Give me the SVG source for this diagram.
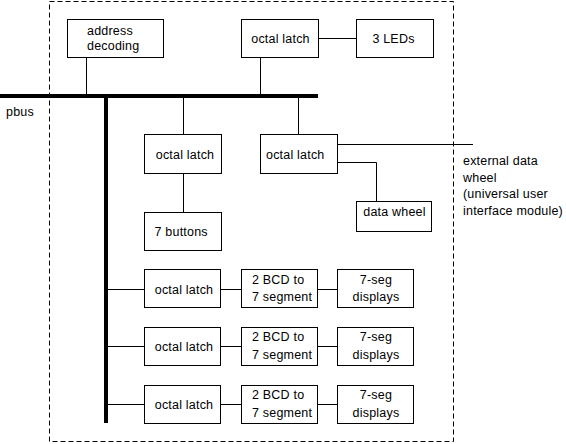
<svg xmlns="http://www.w3.org/2000/svg" width="566" height="444" viewBox="0 0 566 444">
<style>
.box{fill:#fff;stroke:#000;stroke-width:1}
.t{font-family:"Liberation Sans",Arial,sans-serif;font-size:12.5px;letter-spacing:0.2px;fill:#000}
.c{text-anchor:middle}
.w{stroke:#000;stroke-width:1;fill:none}
.bus{stroke:#000;stroke-width:4;fill:none}
</style>
<rect width="566" height="444" fill="#fff"/>
<rect x="49.5" y="1.5" width="404" height="440" fill="none" stroke="#000" stroke-width="1" stroke-dasharray="5,3"/>
<g id="connectors">
<line class="bus" x1="0" y1="96" x2="318" y2="96"/>
<line class="bus" x1="106" y1="96" x2="106" y2="423"/>
<line class="w" x1="86.5" y1="57" x2="86.5" y2="96"/>
<line class="w" x1="260.5" y1="57" x2="260.5" y2="96"/>
<line class="w" x1="319" y1="38.5" x2="356" y2="38.5"/>
<line class="w" x1="183.5" y1="96" x2="183.5" y2="134"/>
<line class="w" x1="298.5" y1="96" x2="298.5" y2="134"/>
<line class="w" x1="183.5" y1="173" x2="183.5" y2="212"/>
<line class="w" x1="338" y1="144.5" x2="473" y2="144.5"/>
<polyline class="w" points="338,162.5 376.5,162.5 376.5,201"/>
<line class="w" x1="106" y1="289.5" x2="144" y2="289.5"/>
<line class="w" x1="221" y1="289.5" x2="241" y2="289.5"/>
<line class="w" x1="318" y1="289.5" x2="337" y2="289.5"/>
<line class="w" x1="106" y1="346.5" x2="144" y2="346.5"/>
<line class="w" x1="221" y1="346.5" x2="241" y2="346.5"/>
<line class="w" x1="318" y1="346.5" x2="337" y2="346.5"/>
<line class="w" x1="106" y1="404.5" x2="144" y2="404.5"/>
<line class="w" x1="221" y1="404.5" x2="241" y2="404.5"/>
<line class="w" x1="318" y1="404.5" x2="337" y2="404.5"/>
</g>
<g id="pbus"><text class="t" x="6" y="116">pbus</text></g>
<g id="address-decoding">
<rect class="box" x="67.5" y="19.5" width="96" height="38"/>
<text class="t" x="87" y="34.5">address</text>
<text class="t" x="87" y="49.5">decoding</text>
</g>
<g id="latch-top">
<rect class="box" x="241.5" y="19.5" width="77" height="38"/>
<text class="t c" x="280.5" y="42.5">octal latch</text>
</g>
<g id="leds">
<rect class="box" x="356.5" y="19.5" width="77" height="38"/>
<text class="t c" x="393.5" y="42.5">3 LEDs</text>
</g>
<g id="latch-buttons">
<rect class="box" x="144.5" y="134.5" width="77" height="39"/>
<text class="t c" x="185" y="158.5">octal latch</text>
</g>
<g id="buttons">
<rect class="box" x="144.5" y="212.5" width="77" height="38"/>
<text class="t" x="154.5" y="236">7 buttons</text>
</g>
<g id="latch-wheel">
<rect class="box" x="260.5" y="134.5" width="77" height="39"/>
<text class="t" x="266" y="158.5">octal latch</text>
</g>
<g id="data-wheel">
<rect class="box" x="356.5" y="201.5" width="75" height="30"/>
<text class="t c" x="394.5" y="216">data wheel</text>
</g>
<g id="external-label">
<text class="t" x="463" y="165">external data</text>
<text class="t" x="463" y="181.5">wheel</text>
<text class="t" x="463" y="198">(universal user</text>
<text class="t" x="463" y="214.5">interface module)</text>
</g>
<g id="latch-1">
<rect class="box" x="144.5" y="269.5" width="76" height="38"/>
<text class="t c" x="184" y="293.5">octal latch</text>
</g>
<g id="bcd-1">
<rect class="box" x="241.5" y="269.5" width="76" height="38"/>
<text class="t" x="252" y="283.5">2 BCD to</text>
<text class="t" x="252" y="301">7 segment</text>
</g>
<g id="seg-1">
<rect class="box" x="337.5" y="269.5" width="76" height="38"/>
<text class="t c" x="376" y="283.5">7-seg</text>
<text class="t c" x="376" y="301">displays</text>
</g>
<g id="latch-2">
<rect class="box" x="144.5" y="327.5" width="76" height="38"/>
<text class="t c" x="184" y="351">octal latch</text>
</g>
<g id="bcd-2">
<rect class="box" x="241.5" y="327.5" width="76" height="38"/>
<text class="t" x="252" y="341">2 BCD to</text>
<text class="t" x="252" y="358.5">7 segment</text>
</g>
<g id="seg-2">
<rect class="box" x="337.5" y="327.5" width="76" height="38"/>
<text class="t c" x="376" y="341">7-seg</text>
<text class="t c" x="376" y="358.5">displays</text>
</g>
<g id="latch-3">
<rect class="box" x="144.5" y="385.5" width="76" height="38"/>
<text class="t c" x="184" y="409">octal latch</text>
</g>
<g id="bcd-3">
<rect class="box" x="241.5" y="385.5" width="76" height="38"/>
<text class="t" x="252" y="399">2 BCD to</text>
<text class="t" x="252" y="416.5">7 segment</text>
</g>
<g id="seg-3">
<rect class="box" x="337.5" y="385.5" width="76" height="38"/>
<text class="t c" x="376" y="399">7-seg</text>
<text class="t c" x="376" y="416.5">displays</text>
</g>
</svg>
